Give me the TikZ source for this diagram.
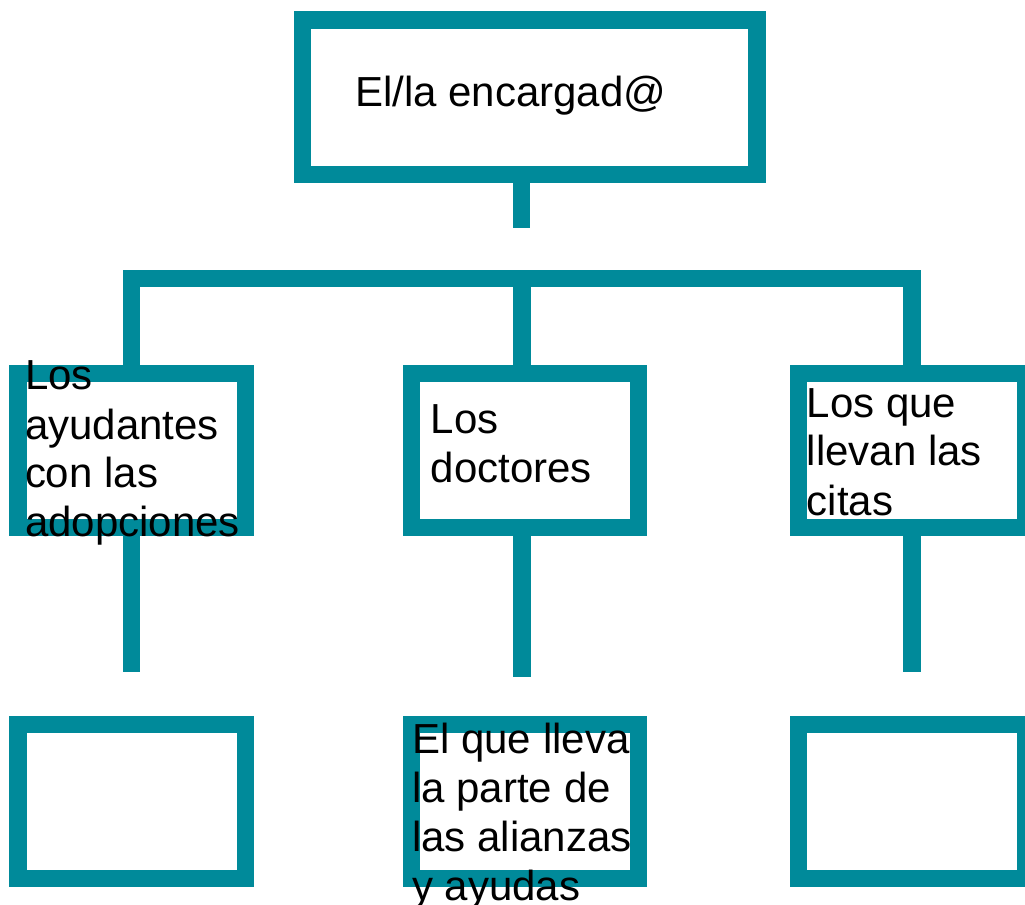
\documentclass[tikz,border=0pt]{standalone}
\usepackage{fontspec}
\setmainfont{Liberation Sans}
\definecolor{teal}{RGB}{0,138,154}
\begin{document}
\begin{tikzpicture}[x=0.75pt,y=-0.75pt,
  orgbox/.style={draw=teal,line width=13pt,rectangle,inner sep=0pt,outer sep=0pt,
    minimum width=170.5pt,minimum height=115.7pt,fill=white},
  link/.style={draw=teal,line width=13pt,line join=miter,line cap=butt},
  label/.style={anchor=base west,align=left,inner sep=0pt,outer sep=0pt,
    font=\fontsize{31.5pt}{36.75pt}\selectfont}]
\useasboundingbox (0,0) rectangle (1025,905);
% boxes
\node[orgbox,minimum width=341pt] (top) at (529.5,97.2) {};
\node[orgbox] (lb) at (131.8,450.35) {};
\node[orgbox] (mb) at (525.1,450.35) {};
\node[orgbox] (rb) at (912,450.35) {};
\node[orgbox] (lbb) at (131.8,801.6) {};
\node[orgbox] (mbb) at (525.1,801.6) {};
\node[orgbox] (rbb) at (912,801.6) {};
% free ends
\coordinate (stub) at (521.7,227.7);
\coordinate (bar) at (0,278.7);
\coordinate (barm) at (522,278.7);
\coordinate (le) at (131.8,671.7);
\coordinate (me) at (522,677);
\coordinate (re) at (912,671.7);
% connectors
\draw[link] (stub |- top.south) -- (stub);
\draw[link] (lb.north) -- (lb.north |- bar) -- (rb.north |- bar) -- (rb.north);
\draw[link] (barm) -- (barm |- mb.north);
\draw[link] (lb.south) -- (le);
\draw[link] (me |- mb.south) -- (me);
\draw[link] (rb.south) -- (re);
% redraw boxes on top of connectors
\node[orgbox,minimum width=341pt] at (top) {};
\node[orgbox] at (lb) {};
\node[orgbox] at (mb) {};
\node[orgbox] at (rb) {};
% texts (anchored at the baseline of the last line)
\node[label] (ttop) at (355,106.7) {El/la encargad@};
\node[label] (tl) at (25,537) {Los\\ayudantes\\con las\\adopciones};
\node[label] (tm) at (430.7,482.7) {Los\\doctores};
\node[label] (tr) at (806.7,515) {Los que\\llevan las\\citas};
\node[label] (tmb) at (412.3,900) {El que lleva\\la parte de\\las alianzas\\y ayudas};
\end{tikzpicture}
\end{document}
